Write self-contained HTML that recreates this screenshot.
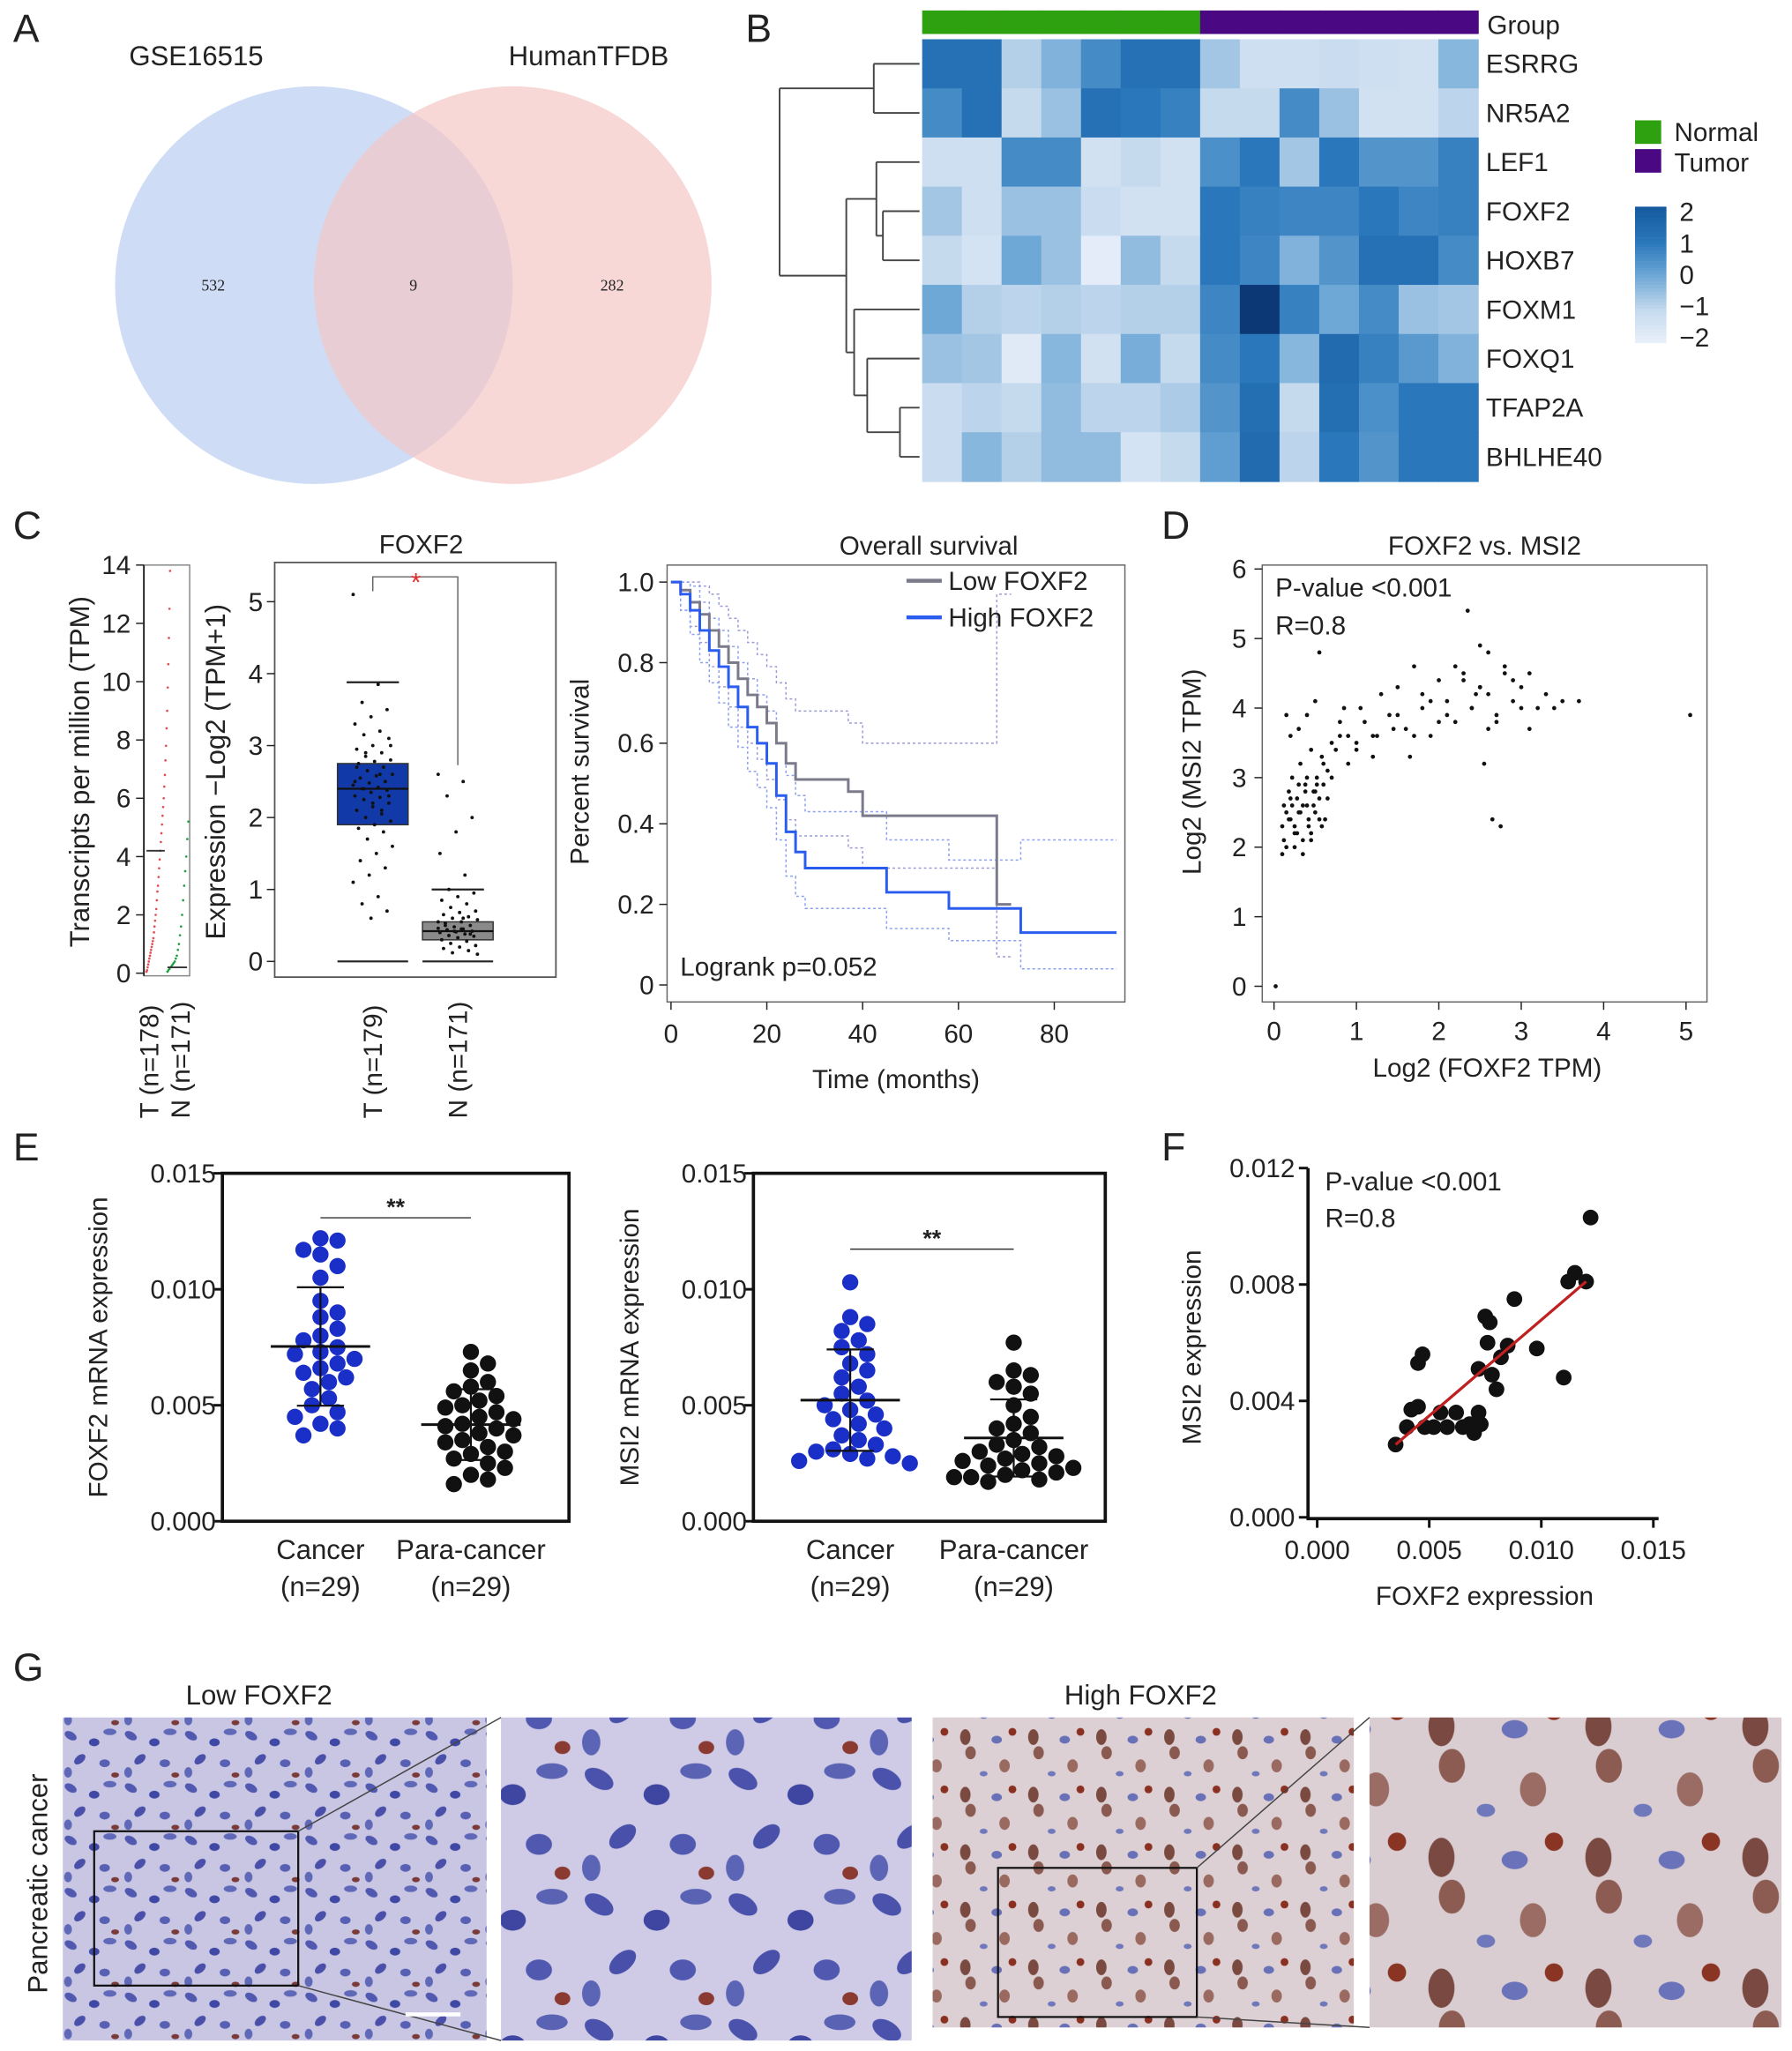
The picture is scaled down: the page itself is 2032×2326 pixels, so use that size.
<!DOCTYPE html>
<html><head><meta charset="utf-8">
<style>
html,body{margin:0;padding:0;background:#fff;}
svg{display:block;font-family:"Liberation Sans",Arial,sans-serif;}
</style></head>
<body>
<svg id="fig" width="2032" height="2326" viewBox="0 0 1370 1568" preserveAspectRatio="none" xmlns="http://www.w3.org/2000/svg">
<defs>
<pattern id="lowTex" width="46" height="40" patternUnits="userSpaceOnUse">
<rect width="46" height="40" fill="#c9c6e3"/>
<ellipse cx="8" cy="7" rx="5" ry="3" fill="#5058b0" transform="rotate(30 8 7)"/>
<ellipse cx="26" cy="12" rx="4" ry="3" fill="#4048a6"/>
<ellipse cx="38" cy="4" rx="5" ry="2.5" fill="#6068b8"/>
<ellipse cx="15" cy="25" rx="5" ry="3" fill="#4a50aa" transform="rotate(-40 15 25)"/>
<ellipse cx="34" cy="28" rx="4" ry="3" fill="#5860b4"/>
<ellipse cx="6" cy="35" rx="3" ry="4" fill="#6068b8"/>
<ellipse cx="42" cy="37" rx="3" ry="2" fill="#7a3a38"/>
</pattern>
<pattern id="lowTexBig" width="110" height="96" patternUnits="userSpaceOnUse">
<rect width="110" height="96" fill="#cfcbe6"/>
<ellipse cx="18" cy="16" rx="12" ry="7" fill="#4a52ac" transform="rotate(30 18 16)"/>
<ellipse cx="62" cy="28" rx="10" ry="8" fill="#3e46a2"/>
<ellipse cx="92" cy="10" rx="12" ry="6" fill="#5a62b4"/>
<ellipse cx="36" cy="60" rx="12" ry="7" fill="#4850aa" transform="rotate(-40 36 60)"/>
<ellipse cx="82" cy="66" rx="10" ry="8" fill="#5058b0"/>
<ellipse cx="12" cy="84" rx="7" ry="10" fill="#5c64b6"/>
<ellipse cx="100" cy="88" rx="6" ry="5" fill="#8a3a30"/>
</pattern>
<pattern id="highTex" width="52" height="44" patternUnits="userSpaceOnUse">
<rect width="52" height="44" fill="#ddd0d4"/>
<ellipse cx="10" cy="8" rx="4" ry="6" fill="#7a4a40"/>
<ellipse cx="14" cy="20" rx="4" ry="5" fill="#8a5a50"/>
<ellipse cx="34" cy="10" rx="4" ry="3" fill="#6870b8"/>
<ellipse cx="40" cy="30" rx="4" ry="5" fill="#9a6a60"/>
<ellipse cx="24" cy="36" rx="3" ry="2" fill="#7078bc"/>
<ellipse cx="46" cy="4" rx="3" ry="3" fill="#8a3020"/>
</pattern>
<pattern id="highTexBig" width="120" height="100" patternUnits="userSpaceOnUse">
<rect width="120" height="100" fill="#d9cdd2"/>
<ellipse cx="22" cy="20" rx="10" ry="15" fill="#7a4a42"/>
<ellipse cx="30" cy="50" rx="10" ry="13" fill="#8c5c52"/>
<ellipse cx="78" cy="22" rx="10" ry="7" fill="#6a72ba"/>
<ellipse cx="92" cy="68" rx="10" ry="13" fill="#9a6c64"/>
<ellipse cx="56" cy="84" rx="7" ry="5" fill="#7078bc"/>
<ellipse cx="108" cy="8" rx="7" ry="7" fill="#8a3424"/>
</pattern>
</defs>
</svg>
<script>
// ---------- DATA ----------
const vennLabels=["GSE16515","HumanTFDB"];
const vennCounts=[532,9,282];
const hmGenes=["ESRRG","NR5A2","LEF1","FOXF2","HOXB7","FOXM1","FOXQ1","TFAP2A","BHLHE40"];
const hmGroups=["Normal","Normal","Normal","Normal","Normal","Normal","Normal","Tumor","Tumor","Tumor","Tumor","Tumor","Tumor","Tumor"];
const hmESRRG=[1.2,1.2,-0.8,-0.2,0.6,1.2,1.2,-0.6,-1.2,-1.2,-1.1,-1.2,-1.3,-0.3];
const hmNR5A2=[0.6,1.2,-1,-0.5,1.2,1,0.8,-1,-1,0.6,-0.5,-1.3,-1.3,-0.9];
const hmLEF1=[-1.2,-1.2,0.6,0.6,-1.3,-1,-1.3,0.5,1,-0.6,1,0.4,0.4,0.8];
const hmFOXF2=[-0.6,-1.2,-0.5,-0.5,-1.1,-1.3,-1.3,1,0.8,0.7,0.7,1,0.7,0.8];
const hmHOXB7=[-1,-1.4,0,-0.5,-1.8,-0.4,-1,1,0.7,-0.2,0.4,1.2,1.2,0.6];
const hmFOXM1=[0,-0.8,-0.9,-0.8,-0.9,-0.8,-0.8,0.7,2.5,0.8,0,0.6,-0.5,-0.6];
const hmFOXQ1=[-0.5,-0.6,-1.7,-0.3,-1.3,-0.1,-1,0.6,1,-0.3,1.4,0.8,0.3,-0.2];
const hmTFAP2A=[-1.1,-0.9,-1,-0.4,-0.9,-0.9,-0.7,0.4,1.3,-1,1.3,0.5,1,1];
const hmBHLHE40=[-1.1,-0.3,-0.8,-0.4,-0.4,-1.4,-1,0.2,1.4,-0.9,1,0.4,1,1];
const hmScaleTicks=[2,1,0,-1,-2];
const tpmTicks=[0,2,4,6,8,10,12,14];
const tpmTumor=[0.05,0.1,0.2,0.3,0.4,0.5,0.6,0.7,0.8,0.9,1.0,1.1,1.2,1.4,1.6,1.8,2.0,2.2,2.5,2.8,3.0,3.3,3.6,3.9,4.2,4.5,4.8,5.1,5.4,5.7,6.0,6.4,6.8,7.3,7.8,8.4,9.0,9.8,10.6,11.5,12.5,13.8];
const tpmNormal=[0.05,0.1,0.15,0.2,0.25,0.3,0.35,0.4,0.5,0.6,0.8,1.0,1.3,1.6,2.0,2.5,3.0,3.5,4.0,4.6,5.2];
const boxTicks=[0,1,2,3,4,5];
const boxT={q1:1.9,med:2.4,q3:2.75,lo:0,hi:3.88};
const boxN={q1:0.3,med:0.42,q3:0.55,lo:0,hi:1.0};
const boxTPts=[5.1,3.85,3.6,3.5,3.4,3.3,3.2,3.15,3.1,3.0,2.95,2.9,2.85,2.8,2.78,2.75,2.7,2.65,2.6,2.58,2.55,2.5,2.48,2.45,2.42,2.4,2.38,2.35,2.3,2.28,2.25,2.2,2.15,2.1,2.05,2.0,1.95,1.9,1.85,1.8,1.7,1.6,1.5,1.4,1.3,1.2,1.1,0.9,0.8,0.7,0.6,2.5,2.6,2.4,2.3,2.2,2.7,2.1,2.9,3.0];
const boxNPts=[2.6,2.5,2.3,2.0,1.8,1.5,1.2,1.0,0.95,0.9,0.85,0.8,0.75,0.7,0.68,0.65,0.62,0.6,0.58,0.55,0.53,0.5,0.48,0.46,0.45,0.44,0.42,0.41,0.4,0.38,0.36,0.35,0.33,0.3,0.28,0.25,0.22,0.2,0.18,0.15,0.12,0.1,0.45,0.5,0.38,0.42,0.55,0.6];
const survXTicks=[0,20,40,60,80];
const survYTicks=[0,0.2,0.4,0.6,0.8,1.0];
const lowT=[0,2,4,6,8,10,12,14,16,18,20,22,24,26,37,40,68,71];
const lowS=[1,.98,.95,.92,.88,.84,.80,.76,.72,.69,.65,.6,.55,.51,.48,.42,.2,.2];
const lowUp=[1,1,1,.99,.97,.94,.91,.88,.85,.82,.79,.75,.71,.68,.65,.6,.97,.97];
const lowLo=[1,.93,.89,.85,.79,.74,.69,.64,.6,.56,.51,.46,.41,.37,.34,.29,.07,.07];
const highT=[0,2,4,6,8,10,12,14,16,18,20,22,24,26,28,45,58,73,93];
const highS=[1,.97,.93,.88,.83,.79,.74,.69,.64,.6,.55,.47,.38,.33,.29,.23,.19,.13,.13];
const highUp=[1,1,.99,.95,.91,.88,.84,.8,.76,.72,.68,.6,.52,.47,.43,.36,.31,.36,.36];
const highLo=[1,.93,.87,.8,.75,.7,.64,.59,.53,.49,.44,.36,.27,.22,.19,.14,.11,.04,.04];
const dXTicks=[0,1,2,3,4,5];
const dYTicks=[0,1,2,3,4,5,6];
const dX=[0.02,0.1,0.12,0.15,0.18,0.2,0.22,0.25,0.28,0.3,0.32,0.35,0.38,0.4,0.42,0.45,0.48,0.5,0.52,0.55,0.58,0.6,0.62,0.65,0.7,0.1,0.15,0.2,0.25,0.3,0.35,0.4,0.45,0.5,0.55,0.6,0.65,0.12,0.18,0.22,0.28,0.32,0.38,0.42,0.48,0.52,0.58,0.2,0.3,0.4,0.5,0.25,0.35,0.45,0.15,0.55,0.7,0.75,0.8,0.85,0.9,1.0,1.1,1.2,1.3,1.4,1.5,1.6,1.7,1.8,1.9,2.0,2.1,2.2,2.3,2.4,2.5,2.6,2.7,2.8,2.9,3.0,3.1,3.2,3.3,3.5,3.7,5.05,0.8,1.0,1.2,1.5,1.7,1.9,2.1,2.3,2.5,2.7,2.9,3.1,2.2,2.4,2.6,2.0,1.8,2.8,3.0,2.5,2.35,2.55,0.9,1.05,1.25,1.45,1.65,2.65,2.75,2.45,2.6,3.4];
const dY=[0.0,2.3,2.6,2.0,2.8,2.4,3.0,2.2,2.7,2.5,3.2,2.1,2.9,2.6,2.3,3.4,2.8,2.5,3.0,2.7,3.3,2.9,2.4,3.1,3.5,1.9,2.5,2.7,2.3,2.9,2.6,3.0,2.2,2.8,2.4,3.2,2.7,2.1,2.4,2.6,2.2,2.5,2.8,2.4,2.6,2.9,2.3,3.6,3.7,3.9,4.1,2.0,1.9,2.1,3.9,4.8,3.0,3.4,3.6,4.0,3.2,3.5,3.8,3.3,4.2,3.9,4.3,3.7,4.6,4.0,3.6,4.4,4.1,3.8,4.5,4.0,4.9,4.2,3.9,4.6,4.1,4.3,3.7,4.0,4.2,4.1,4.1,3.9,3.8,3.4,3.6,3.9,3.6,4.1,3.9,4.4,4.3,3.8,4.4,4.5,4.6,4.0,3.7,3.8,4.2,4.5,4.0,4.3,5.4,3.2,3.6,4.0,3.6,3.7,3.3,2.4,2.3,4.2,4.8,4.0];
const eTicks=[0,0.005,0.010,0.015];
const eTickLabels=["0.000","0.005","0.010","0.015"];
const e1Cancer=[0.0122,0.0121,0.0117,0.0115,0.0110,0.0105,0.0095,0.0090,0.0088,0.0083,0.0080,0.0078,0.0075,0.0073,0.0072,0.0070,0.0068,0.0066,0.0064,0.0062,0.0060,0.0057,0.0053,0.0050,0.0047,0.0045,0.0042,0.0040,0.0037];
const e1Para=[0.0073,0.0068,0.0065,0.0060,0.0058,0.0056,0.0054,0.0052,0.0050,0.0049,0.0047,0.0045,0.0044,0.0042,0.0041,0.0040,0.0038,0.0037,0.0035,0.0034,0.0032,0.0030,0.0029,0.0027,0.0025,0.0023,0.0020,0.0018,0.0016];
const e2Cancer=[0.0103,0.0088,0.0085,0.0082,0.0078,0.0075,0.0072,0.0068,0.0065,0.0062,0.0058,0.0055,0.0052,0.0050,0.0048,0.0046,0.0044,0.0042,0.0040,0.0037,0.0035,0.0033,0.0031,0.0030,0.0029,0.0028,0.0027,0.0026,0.0025];
const e2Para=[0.0077,0.0065,0.0063,0.0060,0.0058,0.0055,0.0050,0.0045,0.0042,0.0040,0.0038,0.0035,0.0033,0.0032,0.0030,0.0029,0.0028,0.0027,0.0026,0.0025,0.0024,0.0023,0.0022,0.0021,0.0020,0.0019,0.0019,0.0018,0.0017];
const fXTicks=[0,0.005,0.010,0.015];
const fXTickLabels=["0.000","0.005","0.010","0.015"];
const fYTicks=[0,0.004,0.008,0.012];
const fYTickLabels=["0.000","0.004","0.008","0.012"];
const fX=[0.0035,0.004,0.0042,0.0045,0.0048,0.0045,0.0047,0.0052,0.0055,0.0058,0.0062,0.0065,0.007,0.0068,0.0072,0.0073,0.0072,0.0075,0.0077,0.0076,0.0078,0.008,0.0082,0.0085,0.0088,0.0098,0.011,0.0112,0.0115,0.012,0.0122];
const fY=[0.0025,0.0031,0.0037,0.0038,0.0031,0.0053,0.0056,0.0031,0.0036,0.0031,0.0036,0.0031,0.0029,0.0032,0.0036,0.0032,0.0051,0.0069,0.0067,0.006,0.0049,0.0044,0.0055,0.0059,0.0075,0.0058,0.0048,0.0081,0.0084,0.0081,0.0103];
const fFitX=[0.0035,0.012];
const fFitY=[0.0025,0.0081];

// ---------- HELPERS ----------
const svg=document.getElementById('fig');
const NS="http://www.w3.org/2000/svg";
function el(tag,attrs,parent,text){const e=document.createElementNS(NS,tag);for(const k in attrs)e.setAttribute(k,attrs[k]);if(text!==undefined)e.textContent=text;(parent||svg).appendChild(e);return e;}
function grp(name,parent){const g=el('g',{},parent);return g;}
function txt(p,x,y,s,size,anchor,name,extra){const t=el('text',Object.assign({x:x,y:y,'font-size':size,'text-anchor':anchor||'start',fill:'#222'},extra||{}),p,s);return t;}
function lin(d0,d1,r0,r1){return v=>r0+(v-d0)/(d1-d0)*(r1-r0);}

// Panel letters
const letters=grp('panel-letters');
[["A",10,32],["B",570,32],["C",10,412],["D",888,412],["E",10,887],["F",888,887],["G",10,1285]].forEach(l=>{txt(letters,l[1],l[2],l[0],30,'start','panel-letter-'+l[0].toLowerCase());});

// ---------- A: Venn ----------
const gA=grp('venn-diagram');
let c=el('circle',{cx:240,cy:218,r:152,fill:'#c6d6f5','fill-opacity':0.85},gA);
c=el('circle',{cx:392,cy:218,r:152,fill:'#f5c6c6','fill-opacity':0.7},gA);
txt(gA,150,50,vennLabels[0],21,'middle','venn-label-gse16515');
txt(gA,450,50,vennLabels[1],21,'middle','venn-label-humantfdb');
const vennPos=[163,316,468];
vennCounts.forEach((v,i)=>txt(gA,vennPos[i],222,String(v),12,'middle','venn-count-'+i,{'font-family':'Liberation Serif, serif'}));

// ---------- B: Heatmap ----------
const gB=grp('heatmap');
const hmRows=[hmESRRG,hmNR5A2,hmLEF1,hmFOXF2,hmHOXB7,hmFOXM1,hmFOXQ1,hmTFAP2A,hmBHLHE40];
const hmX0=705,hmX1=1130,hmY0=30,hmY1=368;
const cw=(hmX1-hmX0)/hmGroups.length, ch=(hmY1-hmY0)/hmGenes.length;
const stops=[[-2,[234,241,250]],[-1,[198,218,238]],[0,[110,168,214]],[1,[42,119,187]],[2,[21,90,158]],[2.6,[10,50,110]]];
function hmColor(v){v=Math.max(-2,Math.min(2.6,v));for(let i=0;i<stops.length-1;i++){const a=stops[i],b=stops[i+1];if(v<=b[0]){const t=(v-a[0])/(b[0]-a[0]);const col=a[1].map((x,k)=>Math.round(x+(b[1][k]-x)*t));return 'rgb('+col.join(',')+')';}}return 'rgb(10,50,110)';}
hmGroups.forEach((g,j)=>{const r=el('rect',{x:hmX0+j*cw,y:8,width:cw+0.5,height:18,fill:g==='Normal'?'#2ea111':'#4b0883'},gB);});
txt(gB,1137,26,"Group",20,'start','group-label');
hmRows.forEach((row,i)=>{row.forEach((v,j)=>{const r=el('rect',{x:hmX0+j*cw,y:hmY0+i*ch,width:cw+0.5,height:ch+0.5,fill:hmColor(v)},gB);});
txt(gB,1136,hmY0+(i+0.5)*ch+7,hmGenes[i],20,'start','gene-label-'+hmGenes[i].toLowerCase());});
// dendrogram
const gD=grp('row-dendrogram',gB);
const rc=i=>hmY0+(i+0.5)*ch;
const dend=[[668,0,1],[675,3,4],[688,7,8]];
function seg(x1,y1,x2,y2){const l=el('line',{x1:x1,y1:y1,x2:x2,y2:y2,stroke:'#444','stroke-width':1.3},gD);}
function node(x,ya,xa,yb,xb){seg(xa,ya,x,ya);seg(xb,yb,x,yb);seg(x,ya,x,yb);return (ya+yb)/2;}
const L=703;
const n01=node(668,rc(0),L,rc(1),L);
const n34=node(675,rc(3),L,rc(4),L);
const n234=node(670,rc(2),L,n34,675);
const n78=node(688,rc(7),L,rc(8),L);
const n678=node(663,rc(6),L,n78,688);
const n5678=node(653,rc(5),L,n678,663);
const nLow=node(647,n234,670,n5678,653);
node(596,n01,668,nLow,647);
// legend
const gL=grp('heatmap-legend',gB);
let r=el('rect',{x:1250,y:92,width:20,height:18,fill:'#2ea111'},gL);
r=el('rect',{x:1250,y:114,width:20,height:18,fill:'#4b0883'},gL);
txt(gL,1280,108,"Normal",20,'start','legend-normal');
txt(gL,1280,131,"Tumor",20,'start','legend-tumor');
for(let k=0;k<40;k++){const v=2-k*0.1;r=el('rect',{x:1250,y:158+k*2.6,width:24,height:2.8,fill:hmColor(v)},gL);}
const csY=lin(2,-2,162,258);
hmScaleTicks.forEach(t=>{txt(gL,1284,csY(t)+7,(t<0?'\u2212':'')+Math.abs(t),20,'start','color-scale-tick');});

// ---------- C1: TPM strip ----------
const gC1=grp('tpm-strip-plot');
const tY=lin(0,14,744,432);
r=el('rect',{x:110,y:432,width:35,height:314,fill:'none',stroke:'#888','stroke-width':1},gC1);
el('line',{x1:110,y1:432,x2:110,y2:746,stroke:'#222','stroke-width':1.3},gC1);
tpmTicks.forEach(t=>{el('line',{x1:104,y1:tY(t),x2:110,y2:tY(t),stroke:'#222'},gC1);txt(gC1,100,tY(t)+7,String(t),20,'end','tpm-tick');});
tpmTumor.forEach((v,i)=>{const x=112+i/(tpmTumor.length-1)*18;const p=el('circle',{cx:x,cy:tY(v),r:0.9,fill:'#e05050'},gC1);});
tpmNormal.forEach((v,i)=>{const x=128+i/(tpmNormal.length-1)*16;const p=el('circle',{cx:x,cy:tY(v),r:0.9,fill:'#20a040'},gC1);});
el('line',{x1:112,y1:tY(4.2),x2:126,y2:tY(4.2),stroke:'#333','stroke-width':1.2},gC1);
el('line',{x1:128,y1:tY(0.2),x2:143,y2:tY(0.2),stroke:'#333','stroke-width':1.2},gC1);
txt(gC1,68,590,"Transcripts per million (TPM)",21,'middle','tpm-y-title',{transform:'rotate(-90 68 590)'});
txt(gC1,121,855,"T (n=178)",20,'start','tpm-x-label-t',{transform:'rotate(-90 121 855)'});
txt(gC1,145,855,"N (n=171)",20,'start','tpm-x-label-n',{transform:'rotate(-90 145 855)'});

// ---------- C2: Boxplot ----------
const gC2=grp('foxf2-boxplot');
const bY=lin(0,5,735,460);
r=el('rect',{x:210,y:430,width:215,height:317,fill:'none',stroke:'#555','stroke-width':1.2},gC2);
boxTicks.forEach(t=>{el('line',{x1:204,y1:bY(t),x2:210,y2:bY(t),stroke:'#222'},gC2);txt(gC2,201,bY(t)+7,String(t),20,'end','boxplot-tick');});
txt(gC2,322,423,"FOXF2",20,'middle','boxplot-title');
function drawBox(b,cx,fill,name){
  el('line',{x1:cx-27,y1:bY(b.lo),x2:cx+27,y2:bY(b.lo),stroke:'#222','stroke-width':1.5},gC2);
  el('line',{x1:cx-20,y1:bY(b.hi),x2:cx+20,y2:bY(b.hi),stroke:'#222','stroke-width':1.5},gC2);
  const rr=el('rect',{x:cx-27,y:bY(b.q3),width:54,height:bY(b.q1)-bY(b.q3),fill:fill,stroke:'#333'},gC2);
  el('line',{x1:cx-27,y1:bY(b.med),x2:cx+27,y2:bY(b.med),stroke:'#111','stroke-width':1.5},gC2);
}
drawBox(boxT,285,'#1239a8','box-tumor');
drawBox(boxN,350,'#8a8a8a','box-normal');
function jit(i){return ((i*37)%23-11)/11;}
boxTPts.forEach((v,i)=>{const p=el('circle',{cx:285+jit(i)*15,cy:bY(v),r:1.3,fill:'#111'},gC2);});
boxNPts.forEach((v,i)=>{const p=el('circle',{cx:350+jit(i)*15,cy:bY(v),r:1.3,fill:'#111'},gC2);});
el('polyline',{points:'285,452 285,441 350,441 350,585',fill:'none',stroke:'#666','stroke-width':1},gC2);
txt(gC2,318,452,"*",20,'middle','significance-star',{fill:'#e03030'});
txt(gC2,172,590,"Expression \u2212Log2 (TPM+1)",21,'middle','boxplot-y-title',{transform:'rotate(-90 172 590)'});
txt(gC2,292,855,"T (n=179)",20,'start','boxplot-x-label-t',{transform:'rotate(-90 292 855)'});
txt(gC2,357,855,"N (n=171)",20,'start','boxplot-x-label-n',{transform:'rotate(-90 357 855)'});

// ---------- C3: Survival ----------
const gS=grp('survival-plot');
const sX=lin(0,80,513,806), sY=lin(0,1,753,445);
r=el('rect',{x:510,y:432,width:350,height:334,fill:'none',stroke:'#666','stroke-width':1},gS);
survXTicks.forEach(t=>{el('line',{x1:sX(t),y1:766,x2:sX(t),y2:772,stroke:'#222'},gS);txt(gS,sX(t),797,String(t),20,'middle','survival-x-tick');});
survYTicks.forEach(t=>{el('line',{x1:504,y1:sY(t),x2:510,y2:sY(t),stroke:'#222'},gS);txt(gS,500,sY(t)+7,t===0?'0':t.toFixed(1),20,'end','survival-y-tick');});
function stepPts(T,S){let p=[];for(let i=0;i<T.length;i++){if(i>0)p.push(sX(T[i])+','+sY(S[i-1]));p.push(sX(T[i])+','+sY(S[i]));}return p.join(' ');}
function sline(T,S,col,w,dash,name){const l=el('polyline',{points:stepPts(T,S),fill:'none',stroke:col,'stroke-width':w},gS);if(dash)l.setAttribute('stroke-dasharray',dash);}
sline(lowT,lowUp,'#9a9ad8',1,'2,2','low-ci-upper');
sline(lowT,lowLo,'#9a9ad8',1,'2,2','low-ci-lower');
sline(highT,highUp,'#8aa0f0',1,'2,2','high-ci-upper');
sline(highT,highLo,'#8aa0f0',1,'2,2','high-ci-lower');
sline(lowT,lowS,'#7a7a8a',2,null,'low-foxf2-curve');
sline(highT,highS,'#2a5cf0',2,null,'high-foxf2-curve');
txt(gS,710,424,"Overall survival",20,'middle','survival-title');
el('line',{x1:693,y1:444,x2:720,y2:444,stroke:'#7a7a8a','stroke-width':3},gS);
el('line',{x1:693,y1:472,x2:720,y2:472,stroke:'#2a5cf0','stroke-width':3},gS);
txt(gS,725,451,"Low FOXF2",20,'start','legend-low-foxf2');
txt(gS,725,479,"High FOXF2",20,'start','legend-high-foxf2');
txt(gS,520,746,"Logrank p=0.052",20,'start','logrank-label');
txt(gS,685,832,"Time (months)",20,'middle','survival-x-title');
txt(gS,450,590,"Percent survival",20,'middle','survival-y-title',{transform:'rotate(-90 450 590)'});

// ---------- D: Scatter ----------
const gDs=grp('foxf2-msi2-scatter');
const dXs=lin(0,5,974,1289), dYs=lin(0,6,754,435);
r=el('rect',{x:965,y:432,width:340,height:334,fill:'none',stroke:'#666','stroke-width':1},gDs);
dXTicks.forEach(t=>{el('line',{x1:dXs(t),y1:766,x2:dXs(t),y2:772,stroke:'#222'},gDs);txt(gDs,dXs(t),795,String(t),20,'middle','scatter-x-tick');});
dYTicks.forEach(t=>{el('line',{x1:959,y1:dYs(t),x2:965,y2:dYs(t),stroke:'#222'},gDs);txt(gDs,953,dYs(t)+7,String(t),20,'end','scatter-y-tick');});
dX.forEach((v,i)=>{const p=el('circle',{cx:dXs(v),cy:dYs(dY[i]),r:1.6,fill:'#111'},gDs);});
txt(gDs,1135,424,"FOXF2 vs. MSI2",20,'middle','scatter-title');
txt(gDs,975,456,"P-value <0.001",20,'start','scatter-pvalue');
txt(gDs,975,485,"R=0.8",20,'start','scatter-r');
txt(gDs,1137,823,"Log2 (FOXF2 TPM)",20,'middle','scatter-x-title');
txt(gDs,918,590,"Log2 (MSI2 TPM)",20,'middle','scatter-y-title',{transform:'rotate(-90 918 590)'});

// ---------- E: dot plots ----------
const eY=lin(0,0.015,1163,897);
function swarm(vals,cx,rad){const placed=[];return vals.map(v=>{const y=eY(v);let off=0;for(let k=0;k<40;k++){const cand=k===0?0:(k%2?1:-1)*Math.ceil(k/2)*rad*1.05;if(placed.every(p=>Math.hypot(p[0]-(cx+cand),p[1]-y)>=rad*2)){off=cand;break;}}placed.push([cx+off,y]);return [cx+off,y];});}
function meanSd(a){const m=a.reduce((s,x)=>s+x,0)/a.length;const sd=Math.sqrt(a.reduce((s,x)=>s+(x-m)*(x-m),0)/(a.length-1));return [m,sd];}
function ePanel(name,x0,x1,cA,cB,dA,dB,ytitle,sigY){
  const g=grp(name);
  const fr=el('rect',{x:x0,y:897,width:x1-x0,height:266,fill:'none',stroke:'#111','stroke-width':2.5},g);
  eTicks.forEach((t,i)=>{el('line',{x1:x0-7,y1:eY(t),x2:x0,y2:eY(t),stroke:'#111','stroke-width':2},g);txt(g,x0-5,eY(t)+7,eTickLabels[i],20,'end',name+'-y-tick');});
  [[dA,cA,'#1a2fc8','cancer'],[dB,cB,'#111','para-cancer']].forEach(s=>{
    swarm(s[0],s[1],6.2).forEach(p=>{const d=el('circle',{cx:p[0],cy:p[1],r:6.2,fill:s[2]},g);});
    const ms=meanSd(s[0]);
    el('line',{x1:s[1]-38,y1:eY(ms[0]),x2:s[1]+38,y2:eY(ms[0]),stroke:'#111','stroke-width':2},g);
    el('line',{x1:s[1],y1:eY(ms[0]+ms[1]),x2:s[1],y2:eY(ms[0]-ms[1]),stroke:'#111','stroke-width':1.5},g);
    el('line',{x1:s[1]-18,y1:eY(ms[0]+ms[1]),x2:s[1]+18,y2:eY(ms[0]+ms[1]),stroke:'#111','stroke-width':1.5},g);
    el('line',{x1:s[1]-18,y1:eY(ms[0]-ms[1]),x2:s[1]+18,y2:eY(ms[0]-ms[1]),stroke:'#111','stroke-width':1.5},g);
  });
  el('line',{x1:cA,y1:sigY,x2:cB,y2:sigY,stroke:'#333','stroke-width':1},g);
  txt(g,(cA+cB)/2,sigY-2,"**",18,'middle',name+'-significance',{'font-weight':'bold'});
  txt(g,cA,1192,"Cancer",21,'middle',name+'-x-label-cancer');
  txt(g,cA,1220,"(n=29)",21,'middle',name+'-x-label-cancer-n');
  txt(g,cB,1192,"Para-cancer",21,'middle',name+'-x-label-para');
  txt(g,cB,1220,"(n=29)",21,'middle',name+'-x-label-para-n');
  txt(g,x0-88,1030,ytitle,20,'middle',name+'-y-title',{transform:'rotate(-90 '+(x0-88)+' 1030)'});
}
ePanel('foxf2-mrna-plot',170,435,245,360,e1Cancer,e1Para,"FOXF2 mRNA expression",931);
ePanel('msi2-mrna-plot',576,845,650,775,e2Cancer,e2Para,"MSI2 mRNA expression",955);

// ---------- F: correlation ----------
const gF=grp('foxf2-msi2-correlation');
const fXs=lin(0,0.015,1007,1264), fYs=lin(0,0.012,1160,893);
el('line',{x1:1000,y1:893,x2:1000,y2:1162,stroke:'#111','stroke-width':2.5},gF);
el('line',{x1:999,y1:1161,x2:1268,y2:1161,stroke:'#111','stroke-width':2.5},gF);
fYTicks.forEach((t,i)=>{el('line',{x1:993,y1:fYs(t),x2:1000,y2:fYs(t),stroke:'#111','stroke-width':2},gF);txt(gF,990,fYs(t)+7,fYTickLabels[i],20,'end','corr-y-tick');});
fXTicks.forEach((t,i)=>{el('line',{x1:fXs(t),y1:1161,x2:fXs(t),y2:1168,stroke:'#111','stroke-width':2},gF);txt(gF,fXs(t),1192,fXTickLabels[i],20,'middle','corr-x-tick');});
fX.forEach((v,i)=>{const p=el('circle',{cx:fXs(v),cy:fYs(fY[i]),r:6,fill:'#111'},gF);});
const fl=el('line',{x1:fXs(fFitX[0]),y1:fYs(fFitY[0]),x2:fXs(fFitX[1]),y2:fYs(fFitY[1]),stroke:'#c02020','stroke-width':2.2},gF);
txt(gF,1013,910,"P-value <0.001",20,'start','corr-pvalue');
txt(gF,1013,938,"R=0.8",20,'start','corr-r');
txt(gF,1135,1227,"FOXF2 expression",20,'middle','corr-x-title');
txt(gF,918,1030,"MSI2 expression",20,'middle','corr-y-title',{transform:'rotate(-90 918 1030)'});

// ---------- G: IHC images ----------
const gG=grp('ihc-images');
txt(gG,198,1303,"Low FOXF2",21,'middle','low-foxf2-label');
txt(gG,872,1303,"High FOXF2",21,'middle','high-foxf2-label');
txt(gG,36,1440,"Pancreatic cancer",21,'middle','pancreatic-cancer-label',{transform:'rotate(-90 36 1440)'});
[[48,1313,324,247,'url(#lowTex)','low-foxf2-image'],[383,1313,314,247,'url(#lowTexBig)','low-foxf2-zoom-image'],[713,1313,322,237,'url(#highTex)','high-foxf2-image'],[1047,1313,315,237,'url(#highTexBig)','high-foxf2-zoom-image']].forEach(a=>{const im=el('rect',{x:a[0],y:a[1],width:a[2],height:a[3],fill:a[4]},gG);});
el('rect',{x:72,y:1400,width:156,height:118,fill:'none',stroke:'#111','stroke-width':1.5},gG);
el('line',{x1:228,y1:1400,x2:383,y2:1313,stroke:'#444'},gG);
el('line',{x1:228,y1:1518,x2:383,y2:1560,stroke:'#444'},gG);
el('rect',{x:763,y:1428,width:152,height:114,fill:'none',stroke:'#111','stroke-width':1.5},gG);
el('line',{x1:915,y1:1428,x2:1047,y2:1313,stroke:'#444'},gG);
el('line',{x1:915,y1:1542,x2:1047,y2:1550,stroke:'#444'},gG);
el('line',{x1:310,y1:1540,x2:352,y2:1540,stroke:'#fff','stroke-width':3},gG);
</script>
</body></html>
